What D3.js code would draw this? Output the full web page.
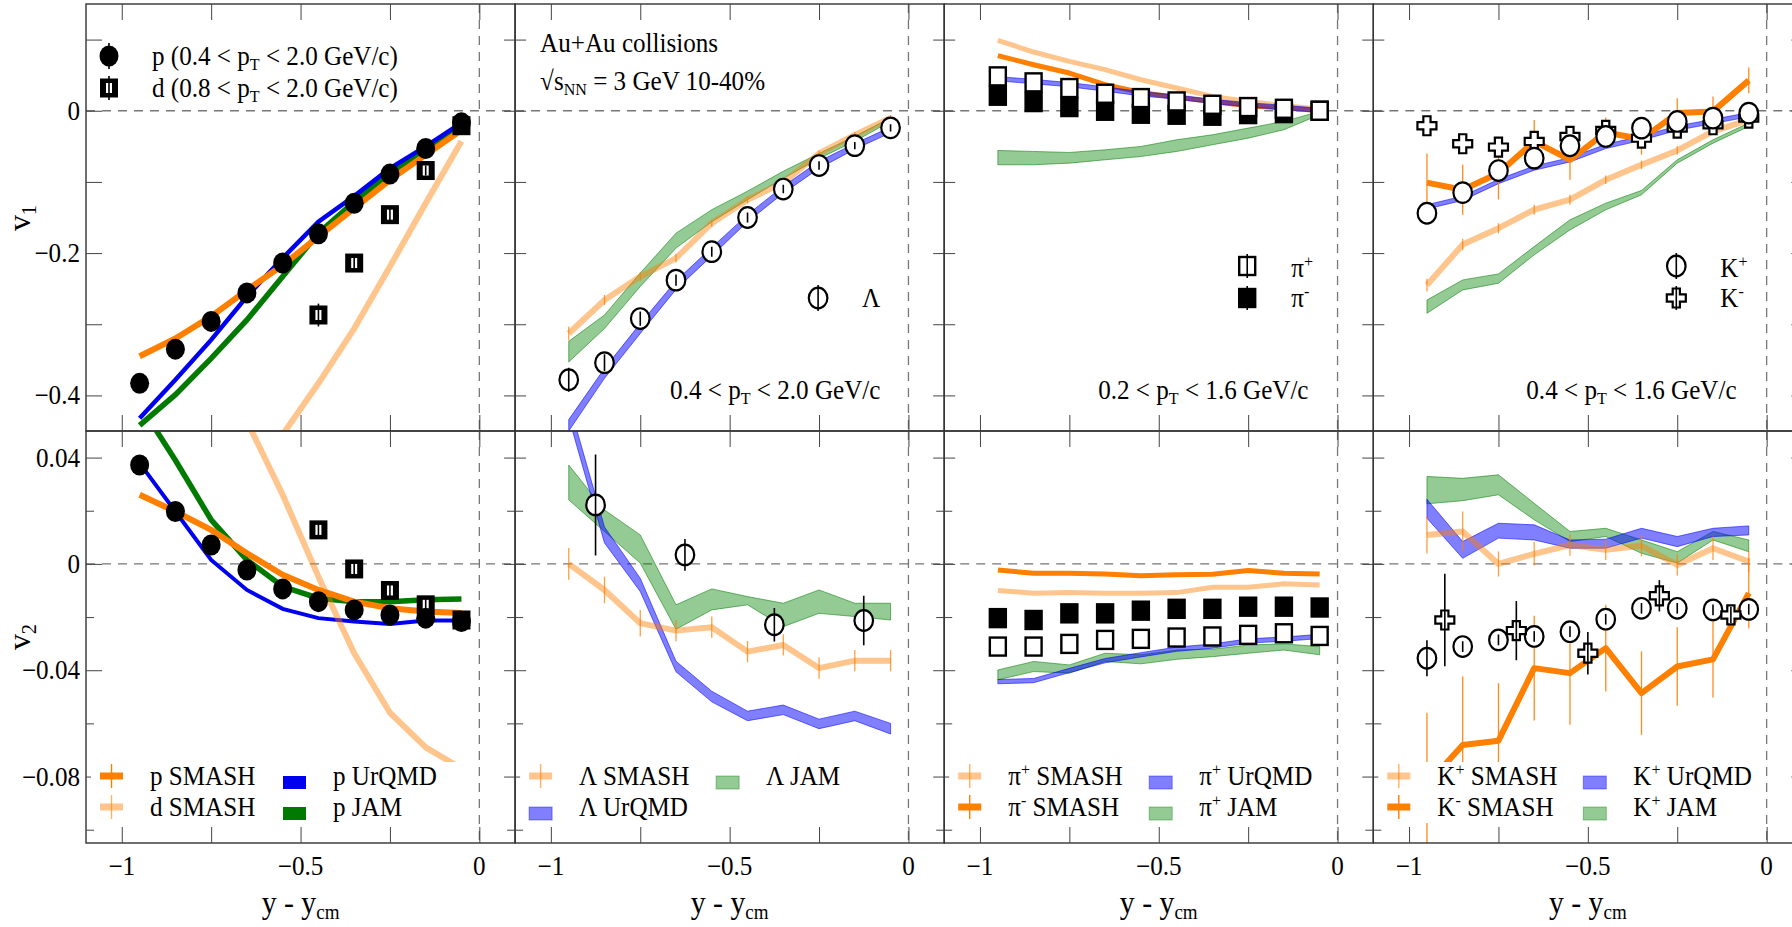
<!DOCTYPE html>
<html>
<head>
<meta charset="utf-8">
<script src="https://d3js.org/d3.v7.min.js"></script>
<style>
  body { margin: 0; background: #fff; }
  text { white-space: pre; }
</style>
</head>
<body>
<script>
// ---------- data ----------
const rap = [-0.95, -0.85, -0.75, -0.65, -0.55, -0.45, -0.35, -0.25, -0.15, -0.05];
const rapD = [-0.45, -0.35, -0.25, -0.15, -0.05];
const rapLamV2 = [-0.875, -0.625, -0.375, -0.125];
const rapKmV2 = [-0.9, -0.7, -0.5, -0.3, -0.1];

const xTicks = [-1, -0.75, -0.5, -0.25, 0];
const xLabelVals = [-1, -0.5, 0];
const xLabelText = ["−1", "−0.5", "0"];
const v1Ticks = [-0.4, -0.3, -0.2, -0.1, 0, 0.1];
const v1LabelVals = [0, -0.2, -0.4];
const v1LabelText = ["0", "−0.2", "−0.4"];
const v2Major = [-0.08, -0.04, 0, 0.04];
const v2Minor = [-0.1, -0.06, -0.02, 0.02];
const v2LabelVals = [0.04, 0, -0.04, -0.08];
const v2LabelText = ["0.04", "0", "−0.04", "−0.08"];

// protons / deuterons
const pV1 = [-0.383, -0.335, -0.296, -0.256, -0.214, -0.173, -0.130, -0.089, -0.053, -0.017];
const dV1 = [-0.287, -0.214, -0.146, -0.084, -0.021];
const dV1Err = [0.016, 0.010, 0.008, 0.007, 0.006];
const pSmashV1 = [-0.345, -0.320, -0.289, -0.252, -0.217, -0.177, -0.137, -0.097, -0.062, -0.027];
const dSmashV1 = [-0.77, -0.69, -0.61, -0.53, -0.455, -0.383, -0.306, -0.219, -0.130, -0.043];
const pUrqmdV1 = [-0.432, -0.378, -0.322, -0.261, -0.207, -0.156, -0.120, -0.081, -0.050, -0.017];
const pJamV1 = [-0.442, -0.399, -0.348, -0.294, -0.233, -0.172, -0.128, -0.088, -0.055, -0.022];

const pV2 = [0.0372, 0.0197, 0.0071, -0.0023, -0.0094, -0.0142, -0.0173, -0.0192, -0.0204, -0.0217];
const dV2 = [0.0128, -0.0019, -0.0100, -0.0154, -0.0211];
const dV2Err = [0.003, 0.003, 0.003, 0.003, 0.003];
const pSmashV2 = [0.026, 0.0197, 0.0128, 0.004, -0.0041, -0.0098, -0.0142, -0.0167, -0.0179, -0.0185];
const dSmashV2 = [0.16, 0.125, 0.081, 0.0537, 0.026, -0.0048, -0.0336, -0.056, -0.069, -0.077];
const pUrqmdV2 = [0.0379, 0.0197, 0.0015, -0.0098, -0.0169, -0.0204, -0.0217, -0.0226, -0.0213, -0.0213];
const pJamV2 = [0.06, 0.039, 0.0166, 0.0015, -0.0085, -0.0129, -0.0142, -0.0142, -0.0135, -0.0132];

// Lambda
const lamV1 = [-0.378, -0.354, -0.292, -0.238, -0.198, -0.150, -0.110, -0.077, -0.049, -0.024];
const lamV1Err = [0.017, 0.012, 0.010, 0.008, 0.007, 0.007, 0.006, 0.006, 0.005, 0.005];
const lamSmashV1 = [-0.313, -0.266, -0.233, -0.207, -0.158, -0.125, -0.101, -0.060, -0.034, -0.010];
const lamSmashV1Err = [0.010, 0.007, 0.006, 0.006, 0.005, 0.005, 0.005, 0.004, 0.004, 0.004];
const lamUrqmdV1 = [-0.442, -0.369, -0.306, -0.245, -0.198, -0.151, -0.111, -0.076, -0.050, -0.027];
const lamUrqmdV1Err = [0.008, 0.007, 0.007, 0.006, 0.006, 0.005, 0.005, 0.005, 0.004, 0.004];
const lamJamV1Lo = [-0.353, -0.306, -0.247, -0.193, -0.156, -0.125, -0.095, -0.067, -0.043, -0.015];
const lamJamV1Hi = [-0.324, -0.287, -0.228, -0.172, -0.139, -0.113, -0.085, -0.060, -0.036, -0.010];

const lamV2 = [0.0222, 0.0034, -0.0229, -0.0213];
const lamV2Err = [0.019, 0.006, 0.0063, 0.0093];
const lamSmashV2 = [0.0, -0.0098, -0.0223, -0.0251, -0.0238, -0.033, -0.0305, -0.0392, -0.0364, -0.0364];
const lamSmashV2Err = [0.006, 0.005, 0.005, 0.004, 0.004, 0.004, 0.004, 0.004, 0.004, 0.004];
const lamUrqmdV2 = [0.058, 0.0109, -0.0079, -0.0386, -0.0499, -0.0572, -0.0549, -0.0602, -0.0572, -0.0620];
const lamUrqmdV2Err = [0.003, 0.003, 0.0025, 0.002, 0.002, 0.0018, 0.0018, 0.0018, 0.0018, 0.002];
const lamJamV2Lo = [0.0241, 0.0122, 0.0003, -0.0246, -0.0173, -0.0154, -0.0236, -0.0186, -0.0198, -0.0211];
const lamJamV2Hi = [0.0372, 0.0203, 0.0109, -0.0154, -0.0094, -0.0123, -0.0148, -0.0098, -0.0148, -0.0148];

// pions
const piPlusV1 = [0.0483, 0.0399, 0.0319, 0.0239, 0.0178, 0.0131, 0.0084, 0.0052, 0.0028, 0.0];
const piMinusV1 = [0.0211, 0.0122, 0.0052, 0.0, -0.0042, -0.0056, -0.0070, -0.0047, -0.0033, 0.0];
const piPlusSmashV1 = [0.099, 0.0825, 0.0694, 0.0577, 0.0436, 0.0319, 0.0202, 0.0131, 0.0070, 0.0023];
const piMinusSmashV1 = [0.0774, 0.0647, 0.053, 0.0366, 0.0258, 0.0188, 0.0131, 0.0070, 0.0038, 0.0005];
const piPlusUrqmdV1 = [0.045, 0.041, 0.0366, 0.0305, 0.0239, 0.0192, 0.0131, 0.0084, 0.0047, 0.0005];
const piPlusUrqmdV1Err = [0.003, 0.003, 0.003, 0.003, 0.003, 0.003, 0.003, 0.003, 0.003, 0.003];
const piPlusJamV1Lo = [-0.0759, -0.0759, -0.0736, -0.0689, -0.0643, -0.0572, -0.0478, -0.0385, -0.0267, -0.0056];
const piPlusJamV1Hi = [-0.0558, -0.0572, -0.0586, -0.0549, -0.0502, -0.0408, -0.0338, -0.0244, -0.0150, -0.0009];

const piPlusV2 = [-0.0311, -0.0311, -0.0301, -0.0286, -0.0282, -0.0277, -0.0273, -0.0267, -0.0261, -0.0271];
const piMinusV2 = [-0.0204, -0.0211, -0.0186, -0.0186, -0.0176, -0.0169, -0.0169, -0.0161, -0.0161, -0.0164];
const piPlusSmashV2 = [-0.0100, -0.0110, -0.0108, -0.0110, -0.0110, -0.0108, -0.0088, -0.0088, -0.0075, -0.0079];
const piMinusSmashV2 = [-0.0023, -0.0035, -0.0035, -0.0038, -0.0045, -0.0041, -0.0039, -0.0025, -0.0035, -0.0038];
const piPlusUrqmdV2 = [-0.0443, -0.0439, -0.0401, -0.0364, -0.0342, -0.0321, -0.0309, -0.0290, -0.0283, -0.0273];
const piPlusUrqmdV2Err = [0.0008, 0.0008, 0.0008, 0.0008, 0.0008, 0.0008, 0.0008, 0.0008, 0.0008, 0.0008];
const piPlusJamV2Lo = [-0.0436, -0.0405, -0.0411, -0.0367, -0.0376, -0.0359, -0.0349, -0.0336, -0.0324, -0.0342];
const piPlusJamV2Hi = [-0.0399, -0.0367, -0.0380, -0.0336, -0.0342, -0.0324, -0.0321, -0.0305, -0.0301, -0.0311];

// kaons
const kPlusV1 = [-0.144, -0.115, -0.084, -0.0666, -0.0492, -0.0361, -0.0244, -0.0150, -0.0103, -0.0033];
const kMinusV1 = [-0.0211, -0.0464, -0.0511, -0.0431, -0.0361, -0.0277, -0.0385, -0.0244, -0.0197, -0.0103];
const kMinusSmashV1 = [-0.101, -0.111, -0.0877, -0.0431, -0.0689, -0.0305, -0.0398, -0.0033, -0.0009, 0.0427];
const kMinusSmashV1Err = [0.041, 0.035, 0.037, 0.030, 0.028, 0.021, 0.022, 0.021, 0.021, 0.018];
const kPlusSmashV1 = [-0.245, -0.188, -0.165, -0.139, -0.125, -0.097, -0.076, -0.0558, -0.0291, -0.0127];
const kPlusSmashV1Err = [0.009, 0.008, 0.007, 0.007, 0.007, 0.006, 0.006, 0.006, 0.005, 0.005];
const kPlusUrqmdV1 = [-0.135, -0.123, -0.0994, -0.0806, -0.0689, -0.0502, -0.0385, -0.0244, -0.015, -0.0056];
const kPlusUrqmdV1Err = [0.003, 0.003, 0.003, 0.003, 0.003, 0.003, 0.003, 0.003, 0.003, 0.003];
const kPlusJamV1Lo = [-0.2846, -0.2518, -0.2424, -0.2025, -0.1674, -0.1392, -0.1181, -0.0736, -0.0455, -0.0220];
const kPlusJamV1Hi = [-0.266, -0.2377, -0.2293, -0.1908, -0.1533, -0.1299, -0.1120, -0.0689, -0.0408, -0.0173];

const kPlusV2 = [-0.0355, -0.0311, -0.0286, -0.0273, -0.0255, -0.0208, -0.0167, -0.0167, -0.0173, -0.0171];
const kPlusV2Err = [0.0068, 0.002, 0.002, 0.002, 0.002, 0.002, 0.002, 0.002, 0.002, 0.002];
const kMinusV2 = [-0.0211, -0.0251, -0.0336, -0.0120, -0.0192];
const kMinusV2Err = [0.0174, 0.0111, 0.008, 0.0059, 0.003];
const kMinusSmashV2 = [-0.083, -0.0681, -0.0665, -0.0392, -0.0411, -0.0317, -0.0486, -0.0386, -0.0359, -0.0110];
const kMinusSmashV2Err = [0.027, 0.0257, 0.0216, 0.0197, 0.0194, 0.0163, 0.0157, 0.0148, 0.0144, 0.0132];
const kPlusSmashV2 = [0.0109, 0.0122, 0.0, 0.0038, 0.0071, 0.0053, 0.0068, -0.0004, 0.0059, 0.0009];
const kPlusSmashV2Err = [0.007, 0.0075, 0.0047, 0.0044, 0.004, 0.0038, 0.004, 0.004, 0.0044, 0.004];
const kPlusUrqmdV2Lo = [0.0172, 0.0021, 0.0097, 0.0090, 0.0059, 0.0059, 0.0097, 0.0065, 0.0103, 0.0109];
const kPlusUrqmdV2Hi = [0.0243, 0.0084, 0.0153, 0.0147, 0.0090, 0.0093, 0.0134, 0.0103, 0.0134, 0.0143];
const kPlusJamV2Lo = [0.0226, 0.0238, 0.026, 0.0166, 0.0084, 0.0103, 0.004, 0.0003, 0.009, 0.0046];
const kPlusJamV2Hi = [0.0329, 0.0322, 0.0335, 0.0228, 0.0122, 0.0134, 0.009, 0.0046, 0.0122, 0.009];

// ---------- layout ----------
const FONT = "'Liberation Serif','Times New Roman',Times,serif";
const ORANGE = "#ff7f00", BLUE = "#0000ff", GREEN = "#008000";
const W = 429.1, L0 = 86;
const rows = [[4, 431], [431, 843]];

const svg = d3.select("body").append("svg").attr("width", 1792).attr("height", 927)
  .style("background", "#fff");
const defs = svg.append("defs");

const yV1 = d3.scaleLinear().domain([-0.45, 0.15]).range([431, 4]);
const yV2 = d3.scaleLinear().domain([-0.105, 0.05]).range([843, 431]);
function colX(i) {
  const l = L0 + i * W;
  return d3.scaleLinear().domain([-1.1, 0.1]).range([l, l + W]);
}

// text with sub/superscripts, slightly narrow like the original
function rich(parent, x, y, segs, o = {}) {
  const size = o.size || 27;
  const sx = o.sx === undefined ? 0.93 : o.sx;
  const t = parent.append("text")
    .attr("transform", `translate(${x},${y})` + (o.rot ? ` rotate(${o.rot})` : "") + ` scale(${sx},1)`)
    .attr("font-family", FONT).attr("font-size", size)
    .attr("text-anchor", o.anchor || "start").attr("fill", "#000");
  let cur = 0;
  segs.forEach(s => {
    const [str, kind] = typeof s === "string" ? [s, ""] : s;
    const off = kind === "sub" ? 0.2 * size : kind === "sup" ? -0.38 * size : 0;
    t.append("tspan").attr("dy", off - cur).attr("font-size", kind ? 0.64 * size : size).text(str);
    cur = off;
  });
  return t;
}

function marker(g, m, cx, cy, ePx) {
  const k = g.append("g");
  if (m === "fc") {
    k.append("ellipse").attr("cx", cx).attr("cy", cy).attr("rx", 9.5).attr("ry", 10.5).attr("fill", "#000");
  } else if (m === "oc") {
    k.append("ellipse").attr("cx", cx).attr("cy", cy).attr("rx", 9.3).attr("ry", 10.3)
      .attr("fill", "#fff").attr("stroke", "#000").attr("stroke-width", 2.2);
  } else if (m === "os" || m === "fs") {
    k.append("rect").attr("x", cx - 8).attr("y", cy - 9).attr("width", 16).attr("height", 18)
      .attr("fill", m === "os" ? "#fff" : "#000").attr("stroke", "#000").attr("stroke-width", 2.4);
  } else if (m === "ds") {
    k.append("rect").attr("x", cx - 9).attr("y", cy - 9.5).attr("width", 18).attr("height", 19).attr("fill", "#000");
    k.append("rect").attr("x", cx - 3).attr("y", cy - 5).attr("width", 6).attr("height", 10).attr("fill", "#fff");
    ePx = Math.max(ePx || 0, 5);
  } else if (m === "ox") {
    const a = 9.5, b = 3.6;
    const pts = [[-b,-a],[b,-a],[b,-b],[a,-b],[a,b],[b,b],[b,a],[-b,a],[-b,b],[-a,b],[-a,-b],[-b,-b]];
    k.append("path").attr("d", "M" + pts.map(p => (cx + p[0]) + "," + (cy + p[1])).join("L") + "Z")
      .attr("fill", "#fff").attr("stroke", "#000").attr("stroke-width", 2.2);
  }
  if (ePx > 0) {
    k.append("line").attr("x1", cx).attr("x2", cx).attr("y1", cy - ePx).attr("y2", cy + ePx)
      .attr("stroke", "#000").attr("stroke-width", 1.6);
  }
}

const zip = (xs, ...cols) => xs.map((x, i) => ({ x, v: cols.map(c => c[i]) }));

// ---------- per-cell series ----------
const cells = [
  { col: 0, row: 0, series: [
    { type: "smash", x: rap, y: dSmashV1, light: true },
    { type: "solid", x: rap, y: pJamV1, color: "#007a00", w: 5.5 },
    { type: "solid", x: rap, y: pUrqmdV1, color: "#0000f0", w: 4.5 },
    { type: "smash", x: rap, y: pSmashV1 },
    { type: "pts", x: rapD, y: dV1, err: dV1Err, m: "ds" },
    { type: "pts", x: rap, y: pV1, m: "fc" } ] },
  { col: 0, row: 1, series: [
    { type: "solid", x: rap, y: pJamV2, color: "#007a00", w: 5.5 },
    { type: "solid", x: rap, y: pUrqmdV2, color: "#0000f0", w: 4 },
    { type: "smash", x: rap, y: pSmashV2 },
    { type: "smash", x: rap, y: dSmashV2, light: true },
    { type: "pts", x: rapD, y: dV2, err: dV2Err, m: "ds" },
    { type: "pts", x: rap, y: pV2, m: "fc" } ] },
  { col: 1, row: 0, series: [
    { type: "band", x: rap, lo: lamJamV1Lo, hi: lamJamV1Hi, color: GREEN },
    { type: "smash", x: rap, y: lamSmashV1, err: lamSmashV1Err, light: true },
    { type: "bandE", x: rap, y: lamUrqmdV1, err: lamUrqmdV1Err, color: BLUE },
    { type: "pts", x: rap, y: lamV1, err: lamV1Err, m: "oc" } ] },
  { col: 1, row: 1, series: [
    { type: "band", x: rap, lo: lamJamV2Lo, hi: lamJamV2Hi, color: GREEN },
    { type: "bandE", x: rap, y: lamUrqmdV2, err: lamUrqmdV2Err, color: BLUE },
    { type: "smash", x: rap, y: lamSmashV2, err: lamSmashV2Err, light: true },
    { type: "pts", x: rapLamV2, y: lamV2, err: lamV2Err, m: "oc" } ] },
  { col: 2, row: 0, series: [
    { type: "band", x: rap, lo: piPlusJamV1Lo, hi: piPlusJamV1Hi, color: GREEN },
    { type: "smash", x: rap, y: piPlusSmashV1, light: true, w: 5 },
    { type: "smash", x: rap, y: piMinusSmashV1, w: 5 },
    { type: "bandE", x: rap, y: piPlusUrqmdV1, err: piPlusUrqmdV1Err, color: BLUE },
    { type: "pts", x: rap, y: piMinusV1, m: "fs" },
    { type: "pts", x: rap, y: piPlusV1, m: "os" } ] },
  { col: 2, row: 1, series: [
    { type: "band", x: rap, lo: piPlusJamV2Lo, hi: piPlusJamV2Hi, color: GREEN },
    { type: "bandE", x: rap, y: piPlusUrqmdV2, err: piPlusUrqmdV2Err, color: BLUE },
    { type: "smash", x: rap, y: piPlusSmashV2, light: true, w: 5 },
    { type: "smash", x: rap, y: piMinusSmashV2, w: 5 },
    { type: "pts", x: rap, y: piMinusV2, m: "fs" },
    { type: "pts", x: rap, y: piPlusV2, m: "os" } ] },
  { col: 3, row: 0, series: [
    { type: "band", x: rap, lo: kPlusJamV1Lo, hi: kPlusJamV1Hi, color: GREEN },
    { type: "smash", x: rap, y: kPlusSmashV1, err: kPlusSmashV1Err, light: true },
    { type: "bandE", x: rap, y: kPlusUrqmdV1, err: kPlusUrqmdV1Err, color: BLUE },
    { type: "smash", x: rap, y: kMinusSmashV1, err: kMinusSmashV1Err },
    { type: "pts", x: rap, y: kMinusV1, m: "ox" },
    { type: "pts", x: rap, y: kPlusV1, m: "oc" } ] },
  { col: 3, row: 1, series: [
    { type: "band", x: rap, lo: kPlusJamV2Lo, hi: kPlusJamV2Hi, color: GREEN },
    { type: "band", x: rap, lo: kPlusUrqmdV2Lo, hi: kPlusUrqmdV2Hi, color: BLUE },
    { type: "smash", x: rap, y: kPlusSmashV2, err: kPlusSmashV2Err, light: true },
    { type: "smash", x: rap, y: kMinusSmashV2, err: kMinusSmashV2Err },
    { type: "pts", x: rap, y: kPlusV2, err: kPlusV2Err, m: "oc" },
    { type: "pts", x: rapKmV2, y: kMinusV2, err: kMinusV2Err, m: "ox" } ] }
];

// bottom legends: [label segments, kind, column, row]
const bottomLegends = [
  { c2: 197, entries: [
    [["p SMASH"], "dark", 0, 0], [["d SMASH"], "light", 0, 1],
    [["p UrQMD"], "solidBlue", 1, 0], [["p JAM"], "solidGreen", 1, 1] ] },
  { c2: 201, entries: [
    [["Λ SMASH"], "light", 0, 0], [["Λ UrQMD"], "blue", 0, 1], [["Λ JAM"], "green", 1, 0] ] },
  { c2: 205, entries: [
    [["π", ["+", "sup"], " SMASH"], "light", 0, 0], [["π", ["-", "sup"], " SMASH"], "dark", 0, 1],
    [["π", ["+", "sup"], " UrQMD"], "blue", 1, 0], [["π", ["+", "sup"], " JAM"], "green", 1, 1] ] },
  { c2: 210, entries: [
    [["K", ["+", "sup"], " SMASH"], "light", 0, 0], [["K", ["-", "sup"], " SMASH"], "dark", 0, 1],
    [["K", ["+", "sup"], " UrQMD"], "blue", 1, 0], [["K", ["+", "sup"], " JAM"], "green", 1, 1] ] }
];

function ticks(g, axisFn, scale, vals, size, tx, ty) {
  g.append("g").attr("transform", `translate(${tx},${ty})`).attr("color", "#444")
    .call(axisFn(scale).tickValues(vals).tickSize(-size).tickFormat(() => ""))
    .call(a => a.select(".domain").remove());
}

cells.forEach((cell, ci) => {
  const x = colX(cell.col);
  const y = cell.row ? yV2 : yV1;
  const [top, bot] = rows[cell.row];
  const left = x.range()[0], right = x.range()[1];
  const g = svg.append("g");

  defs.append("clipPath").attr("id", "clip" + ci)
    .append("rect").attr("x", left).attr("y", top).attr("width", W).attr("height", bot - top);
  const plot = g.append("g").attr("clip-path", `url(#clip${ci})`);

  // zero lines
  plot.append("line").attr("x1", left).attr("x2", right).attr("y1", y(0)).attr("y2", y(0))
    .attr("stroke", "#777").attr("stroke-width", 1.3).attr("stroke-dasharray", "9,7");
  plot.append("line").attr("x1", x(0)).attr("x2", x(0)).attr("y1", top).attr("y2", bot)
    .attr("stroke", "#777").attr("stroke-width", 1.3).attr("stroke-dasharray", "9,7");

  cell.series.forEach(s => {
    if (s.type === "band" || s.type === "bandE") {
      const d = s.type === "band" ? zip(s.x, s.lo, s.hi)
        : zip(s.x, s.y, s.err).map(p => ({ x: p.x, v: [p.v[0] - p.v[1], p.v[0] + p.v[1]] }));
      plot.append("path").datum(d)
        .attr("d", d3.area().x(p => x(p.x)).y0(p => y(p.v[0])).y1(p => y(p.v[1])))
        .attr("fill", s.color).attr("fill-opacity", s.color === BLUE ? 0.5 : 0.42)
        .attr("stroke", s.color).attr("stroke-opacity", 0.55).attr("stroke-width", 1);
    } else if (s.type === "solid") {
      plot.append("path").datum(zip(s.x, s.y))
        .attr("d", d3.line().x(p => x(p.x)).y(p => y(p.v[0])))
        .attr("fill", "none").attr("stroke", s.color).attr("stroke-width", s.w);
    } else if (s.type === "smash") {
      const d = zip(s.x, s.y, s.err || s.x.map(() => 0));
      if (s.err) {
        plot.append("g").selectAll("line").data(d).join("line")
          .attr("x1", p => x(p.x)).attr("x2", p => x(p.x))
          .attr("y1", p => y(p.v[0] - p.v[1])).attr("y2", p => y(p.v[0] + p.v[1]))
          .attr("stroke", ORANGE).attr("stroke-width", 1.3).attr("stroke-opacity", s.light ? 0.75 : 0.9);
      }
      plot.append("path").datum(d)
        .attr("d", d3.line().x(p => x(p.x)).y(p => y(p.v[0])))
        .attr("fill", "none").attr("stroke", ORANGE).attr("stroke-width", s.w || 6)
        .attr("stroke-opacity", s.light ? 0.45 : 1).attr("stroke-linejoin", "round");
    } else if (s.type === "pts") {
      s.x.forEach((xv, i) => {
        const e = s.err ? Math.abs(y(s.y[i] + s.err[i]) - y(s.y[i])) : 0;
        marker(plot, s.m, x(xv), y(s.y[i]), e);
      });
    }
  });

  // frame and ticks
  g.append("rect").attr("x", left).attr("y", top).attr("width", W).attr("height", bot - top)
    .attr("fill", "none").attr("stroke", "#333").attr("stroke-width", 1.4);
  ticks(g, d3.axisTop, x, xTicks, 16, 0, top);
  ticks(g, d3.axisBottom, x, xTicks, 16, 0, bot);
  const outer = cell.col === 0 ? 16 : 11;
  if (cell.row === 0) {
    ticks(g, d3.axisLeft, y, v1Ticks, outer, left, 0);
    ticks(g, d3.axisRight, y, v1Ticks, 11, right, 0);
  } else {
    ticks(g, d3.axisLeft, y, v2Major, outer, left, 0);
    ticks(g, d3.axisRight, y, v2Major, 11, right, 0);
    ticks(g, d3.axisLeft, y, v2Minor, 8, left, 0);
    ticks(g, d3.axisRight, y, v2Minor, 8, right, 0);
  }

  // bottom row: x tick labels and title
  if (cell.row === 1) {
    xLabelVals.forEach((v, i) => rich(g, x(v), 875, [xLabelText[i]], { anchor: "middle" }));
    rich(g, x(-0.5), 913, ["y - y", ["cm", "sub"]], { size: 32, anchor: "middle" });
  }
  if (cell.col === 0) {
    const vals = cell.row ? v2LabelVals : v1LabelVals;
    const txt = cell.row ? v2LabelText : v1LabelText;
    vals.forEach((v, i) => rich(g, 80, y(v) + 9, [txt[i]], { anchor: "end" }));
    rich(g, 30, cell.row ? 637 : 218, ["v", [cell.row ? "2" : "1", "sub"]],
      { size: 32, anchor: "middle", rot: -90, sx: 1 });
  }

  // bottom legends
  if (cell.row === 1) {
    const lg = bottomLegends[cell.col];
    g.append("rect").attr("x", left + 5).attr("y", 762).attr("width", 375).attr("height", 61).attr("fill", "#fff");
    lg.entries.forEach(([segs, kind, c, r]) => {
      const cy = r ? 807 : 776;
      const sx = left + (c ? lg.c2 : 14);
      if (kind === "dark" || kind === "light") {
        g.append("line").attr("x1", sx).attr("x2", sx + 23).attr("y1", cy).attr("y2", cy)
          .attr("stroke", ORANGE).attr("stroke-width", 7).attr("stroke-opacity", kind === "light" ? 0.45 : 1);
        g.append("line").attr("x1", sx + 11.5).attr("x2", sx + 11.5).attr("y1", cy - 12).attr("y2", cy + 12)
          .attr("stroke", ORANGE).attr("stroke-width", 1.4).attr("stroke-opacity", kind === "light" ? 0.6 : 1);
      } else {
        const solid = kind.startsWith("solid");
        const col = kind.toLowerCase().includes("blue") ? BLUE : GREEN;
        g.append("rect").attr("x", sx).attr("y", cy).attr("width", 23).attr("height", 13)
          .attr("fill", solid ? (col === BLUE ? "#0000f0" : "#007a00") : col)
          .attr("fill-opacity", solid ? 1 : (col === BLUE ? 0.5 : 0.42))
          .attr("stroke", col).attr("stroke-opacity", solid ? 0 : 0.4);
      }
      rich(g, sx + 50, r ? 816 : 785, segs);
    });
  }
});

// ---------- top-row legends and labels ----------
const tl = svg.append("g");
const px = i => L0 + i * W;
marker(tl, "fc", 109, 56, 13);
rich(tl, 152, 65, ["p (0.4 < p", ["T", "sub"], " < 2.0 GeV/c)"]);
marker(tl, "ds", 109, 88, 12);
rich(tl, 152, 97, ["d (0.8 < p", ["T", "sub"], " < 2.0 GeV/c)"]);

rich(tl, px(1) + 25, 52, ["Au+Au collisions"]);
rich(tl, px(1) + 25, 90, ["√s", ["NN", "sub"], " = 3 GeV 10-40%"]);
marker(tl, "oc", px(1) + 303, 298, 13);
rich(tl, px(1) + 347, 307, ["Λ"]);
rich(tl, px(1) + 155, 399, ["0.4 < p", ["T", "sub"], " < 2.0 GeV/c"]);

marker(tl, "os", px(2) + 303, 266, 12);
rich(tl, px(2) + 347, 277, ["π", ["+", "sup"]]);
marker(tl, "fs", px(2) + 303, 298, 12);
rich(tl, px(2) + 347, 307, ["π", ["-", "sup"]]);
rich(tl, px(2) + 154, 399, ["0.2 < p", ["T", "sub"], " < 1.6 GeV/c"]);

marker(tl, "oc", px(3) + 303, 266, 13);
rich(tl, px(3) + 347, 277, ["K", ["+", "sup"]]);
marker(tl, "ox", px(3) + 303, 298, 12);
rich(tl, px(3) + 347, 307, ["K", ["-", "sup"]]);
rich(tl, px(3) + 153, 399, ["0.4 < p", ["T", "sub"], " < 1.6 GeV/c"]);
</script>
</body>
</html>
